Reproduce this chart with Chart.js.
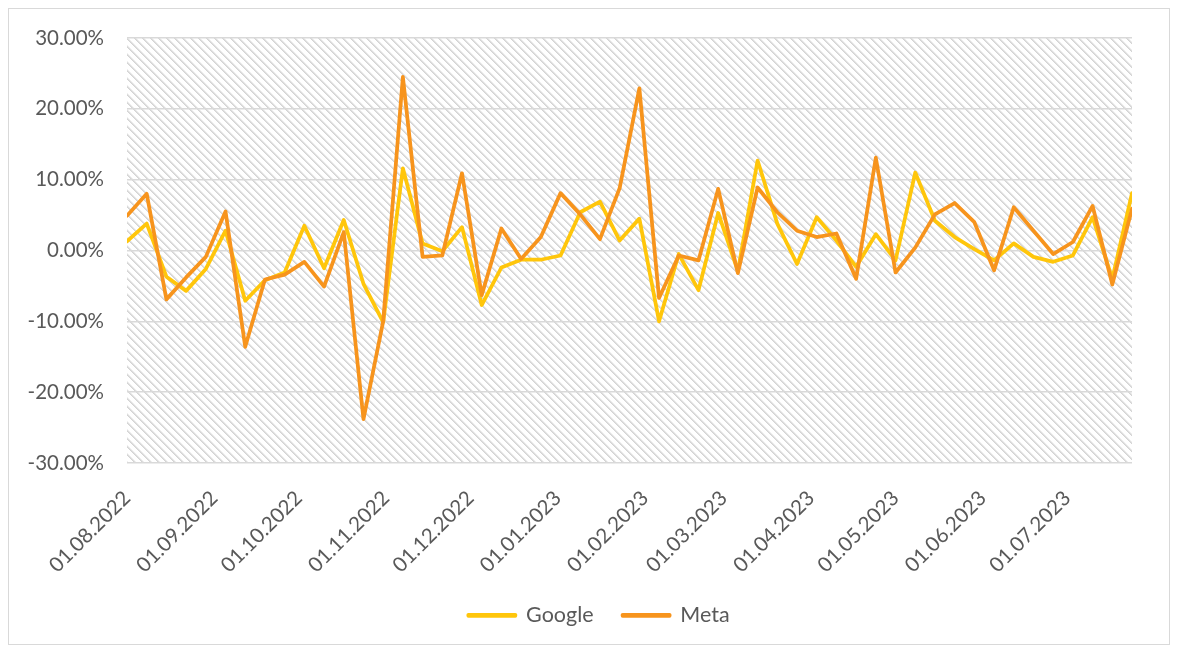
<!DOCTYPE html>
<html>
<head>
<meta charset="utf-8">
<script src="https://cdn.jsdelivr.net/npm/chart.js@4.4.1/dist/chart.umd.min.js"></script>
<style>
  html, body { margin: 0; padding: 0; background: #ffffff; }
  #c { display: block; }
</style>
</head>
<body>
<canvas id="c" width="1178" height="651"></canvas>
<script>
// ---- data ----
const dates = [
  '01.08.2022','08.08.2022','15.08.2022','22.08.2022','29.08.2022',
  '05.09.2022','12.09.2022','19.09.2022','26.09.2022',
  '03.10.2022','10.10.2022','17.10.2022','24.10.2022','31.10.2022',
  '07.11.2022','14.11.2022','21.11.2022','28.11.2022',
  '05.12.2022','12.12.2022','19.12.2022','26.12.2022',
  '02.01.2023','09.01.2023','16.01.2023','23.01.2023','30.01.2023',
  '06.02.2023','13.02.2023','20.02.2023','27.02.2023',
  '06.03.2023','13.03.2023','20.03.2023','27.03.2023',
  '03.04.2023','10.04.2023','17.04.2023','24.04.2023',
  '01.05.2023','08.05.2023','15.05.2023','22.05.2023','29.05.2023',
  '05.06.2023','12.06.2023','19.06.2023','26.06.2023',
  '03.07.2023','10.07.2023','17.07.2023','24.07.2023'
];
const google = [
  1.3, 3.8, -3.7, -5.7, -2.6, 2.8, -7.1, -4.2, -3.1, 3.5,
  -2.5, 4.3, -4.7, -10.1, 11.6, 1.0, -0.1, 3.3, -7.7, -2.4,
  -1.3, -1.3, -0.7, 5.4, 6.9, 1.4, 4.5, -10.0, -0.5, -5.6,
  5.3, -2.9, 12.7, 3.8, -1.9, 4.7, 1.4, -2.3, 2.3, -1.4,
  11.0, 4.2, 1.9, 0.2, -1.4, 1.0, -0.9, -1.6, -0.7, 4.7,
  -4.0, 8.1
];
const meta = [
  4.9, 8.0, -6.9, -3.8, -0.9, 5.5, -13.6, -4.1, -3.4, -1.6,
  -5.1, 2.6, -23.8, -10.0, 24.5, -0.9, -0.7, 10.9, -6.3, 3.1,
  -1.2, 1.9, 8.1, 5.1, 1.6, 8.8, 22.9, -6.7, -0.7, -1.4,
  8.7, -3.2, 8.9, 5.4, 2.8, 1.9, 2.4, -4.0, 13.1, -3.1,
  0.4, 5.1, 6.7, 4.0, -2.8, 6.1, 2.8, -0.5, 1.2, 6.3,
  -4.8, 5.9
];
const monthTicks = [
  '01.08.2022','01.09.2022','01.10.2022','01.11.2022','01.12.2022','01.01.2023',
  '01.02.2023','01.03.2023','01.04.2023','01.05.2023','01.06.2023','01.07.2023'
];
const yTicks = [-30, -20, -10, 0, 10, 20, 30];

// ---- helpers ----
function toUTC(s) {
  const p = s.split('.');
  return Date.UTC(+p[2], +p[1] - 1, +p[0]);
}
const t0 = toUTC(dates[0]);
function dayOffset(s) { return Math.round((toUTC(s) - t0) / 86400000); }
const tickLabelByDay = {};
monthTicks.forEach(s => { tickLabelByDay[dayOffset(s)] = s; });

const googlePts = dates.map((d, i) => ({ x: dayOffset(d), y: google[i] }));
const metaPts = dates.map((d, i) => ({ x: dayOffset(d), y: meta[i] }));

// hatch pattern
const pc = document.createElement('canvas');
pc.width = 8; pc.height = 8;
const pctx = pc.getContext('2d');
pctx.fillStyle = '#ffffff';
pctx.fillRect(0, 0, 8, 8);
for (let y = 0; y < 8; y++) {
  pctx.fillStyle = '#d4d4d4';
  pctx.fillRect(y % 8, y, 1, 1);
  pctx.fillStyle = '#dedede';
  pctx.fillRect((y + 1) % 8, y, 1, 1);
  pctx.fillStyle = '#f0f0f0';
  pctx.fillRect((y + 2) % 8, y, 1, 1);
}

const bgPlugin = {
  id: 'bg',
  beforeDraw(chart) {
    const ctx = chart.ctx;
    const a = chart.chartArea;
    ctx.save();
    ctx.fillStyle = '#ffffff';
    ctx.fillRect(0, 0, chart.width, chart.height);
    ctx.fillStyle = ctx.createPattern(pc, 'repeat');
    ctx.fillRect(a.left, a.top, a.right - a.left, a.bottom - a.top);
    ctx.strokeStyle = '#d9d9d9';
    ctx.lineWidth = 1;
    ctx.strokeRect(8.5, 8.5, 1161, 636);
    ctx.restore();
  }
};

Chart.defaults.font.family = 'Lato, "Open Sans", sans-serif';
Chart.defaults.color = '#595959';

new Chart(document.getElementById('c'), {
  type: 'line',
  data: {
    datasets: [
      {
        label: 'Google',
        data: googlePts,
        borderColor: '#FFC60B',
        backgroundColor: '#FFC60B',
        borderWidth: 3.75,
        pointRadius: 0,
        tension: 0,
        borderJoinStyle: 'round',
        borderCapStyle: 'round',
        order: 1
      },
      {
        label: 'Meta',
        data: metaPts,
        borderColor: '#F7941D',
        backgroundColor: '#F7941D',
        borderWidth: 3.75,
        pointRadius: 0,
        tension: 0,
        borderJoinStyle: 'round',
        borderCapStyle: 'round',
        order: 0
      }
    ]
  },
  options: {
    responsive: false,
    animation: false,
    layout: { padding: { top: 38, right: 0, left: 20, bottom: 15 } },
    plugins: {
      tooltip: { enabled: false },
      legend: {
        position: 'bottom',
        labels: {
          boxWidth: 47,
          boxHeight: 1,
          padding: 29,
          font: { size: 21.5 },
          color: '#595959',
          sort: (a, b) => a.datasetIndex - b.datasetIndex
        }
      }
    },
    scales: {
      x: {
        type: 'linear',
        min: 0,
        max: dayOffset(dates[dates.length - 1]),
        grid: { display: false },
        border: { display: false },
        afterBuildTicks: (axis) => {
          axis.ticks = monthTicks.map(s => ({ value: dayOffset(s) }));
        },
        afterFit: (scale) => { scale.height = 112.5; },
        ticks: {
          autoSkip: false,
          minRotation: 45,
          maxRotation: 45,
          padding: 15,
          font: { size: 20.5 },
          callback: (v) => tickLabelByDay[v] || ''
        }
      },
      y: {
        position: 'left',
        min: -30,
        max: 30,
        afterBuildTicks: (axis) => {
          axis.ticks = yTicks.map(v => ({ value: v }));
        },
        afterFit: (scale) => { scale.width = 107; },
        grid: { color: '#d9d9d9', lineWidth: 1.5, drawTicks: false },
        border: { display: false },
        ticks: {
          padding: 23,
          font: { size: 20.5 },
          callback: (v) => v.toFixed(2) + '%'
        }
      },
      y2: {
        position: 'right',
        display: true,
        grid: { display: false },
        border: { display: false },
        ticks: { display: false },
        afterFit: (scale) => { scale.width = 46; }
      }
    }
  },
  plugins: [bgPlugin]
});
</script>
</body>
</html>
